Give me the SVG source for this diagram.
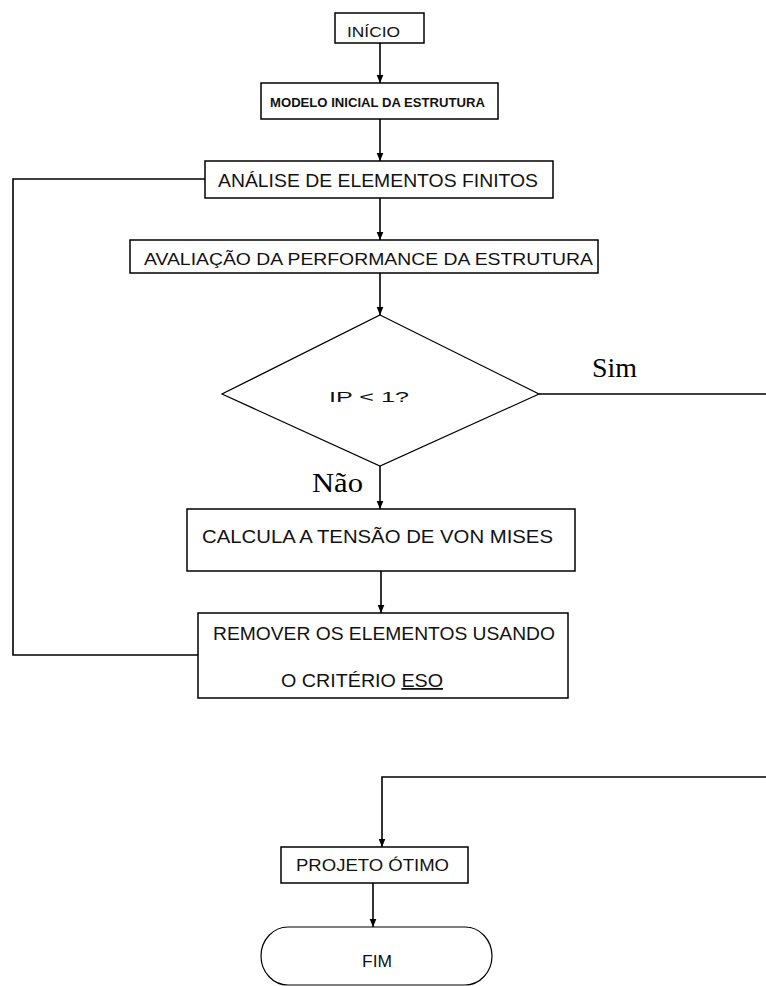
<svg xmlns="http://www.w3.org/2000/svg" width="766" height="986" viewBox="0 0 766 986">
<style>
.box{fill:#fff;stroke:#000;stroke-width:1.5}
.dia{fill:#fff;stroke:#000;stroke-width:1.2}
.ln{fill:none;stroke:#000;stroke-width:1.6}
.t{font-family:"Liberation Sans Narrow","Liberation Sans",Arial,sans-serif;fill:#111}
.s{font-family:"Liberation Serif","Times New Roman",serif;fill:#000}
</style>
<defs>
<marker id="ah" markerUnits="userSpaceOnUse" markerWidth="8" markerHeight="8" refX="6" refY="3" orient="auto" viewBox="0 0 6 6">
<path d="M0,0.5 L6,3 L0,5.5 Z" fill="#000"/>
</marker>
</defs>
<rect width="766" height="986" fill="#fff"/>
<g id="connectors">
<line class="ln" x1="380" y1="43" x2="380" y2="83" marker-end="url(#ah)"/>
<line class="ln" x1="380" y1="119" x2="380" y2="161" marker-end="url(#ah)"/>
<line class="ln" x1="380" y1="198" x2="380" y2="240" marker-end="url(#ah)"/>
<line class="ln" x1="380" y1="273" x2="380" y2="315" marker-end="url(#ah)"/>
<line class="ln" x1="380" y1="466" x2="380" y2="509" marker-end="url(#ah)"/>
<line class="ln" x1="381" y1="571" x2="381" y2="613" marker-end="url(#ah)"/>
<path class="ln" d="M198,655 H13 V179 H205"/>
<path class="ln" d="M539,394 H772 V777 H382 V847" marker-end="url(#ah)"/>
<line class="ln" x1="373" y1="883" x2="373" y2="927" marker-end="url(#ah)"/>
<text class="s" x="592" y="377" font-size="28" textLength="45" lengthAdjust="spacingAndGlyphs">Sim</text>
<text class="s" x="312" y="492" font-size="28" textLength="51" lengthAdjust="spacingAndGlyphs">Não</text>
</g>
<g id="inicio">
<rect class="box" x="335" y="13" width="89" height="30"/>
<text class="t" x="347" y="37" font-size="15" textLength="53" lengthAdjust="spacingAndGlyphs">INÍCIO</text>
</g>
<g id="modelo">
<rect class="box" x="261" y="83" width="237" height="36"/>
<text class="t" x="270" y="107" font-size="13" font-weight="bold" textLength="215" lengthAdjust="spacingAndGlyphs">MODELO INICIAL DA ESTRUTURA</text>
</g>
<g id="analise">
<rect class="box" x="205" y="161" width="348" height="37"/>
<text class="t" x="218" y="187" font-size="18" textLength="320" lengthAdjust="spacingAndGlyphs">ANÁLISE DE ELEMENTOS FINITOS</text>
</g>
<g id="avaliacao">
<rect class="box" x="130" y="240" width="468" height="33"/>
<text class="t" x="144" y="265" font-size="17" textLength="449" lengthAdjust="spacingAndGlyphs">AVALIAÇÃO DA PERFORMANCE DA ESTRUTURA</text>
</g>
<g id="decisao">
<polygon class="dia" points="380,315 539,394 380,466 222,394"/>
<text class="t" x="329" y="402" font-size="14" textLength="80" lengthAdjust="spacingAndGlyphs">IP &lt; 1?</text>
</g>
<g id="calcula">
<rect class="box" x="187" y="509" width="388" height="62"/>
<text class="t" x="202" y="543" font-size="18" textLength="351" lengthAdjust="spacingAndGlyphs">CALCULA A TENSÃO DE VON MISES</text>
</g>
<g id="remover">
<rect class="box" x="198" y="613" width="370" height="85"/>
<text class="t" x="213" y="640" font-size="18" textLength="342" lengthAdjust="spacingAndGlyphs">REMOVER OS ELEMENTOS USANDO</text>
<text class="t" x="281" y="687" font-size="18" textLength="162" lengthAdjust="spacingAndGlyphs">O CRITÉRIO <tspan text-decoration="underline">ESO</tspan></text>
</g>
<g id="projeto">
<rect class="box" x="281" y="847" width="187" height="36"/>
<text class="t" x="296" y="871" font-size="16" textLength="153" lengthAdjust="spacingAndGlyphs">PROJETO ÓTIMO</text>
</g>
<g id="fim">
<path class="dia" d="M288,927 H465 A27,29 0 0 1 465,985 H288 A27,29 0 0 1 288,927 Z"/>
<text class="t" x="362" y="967" font-size="16" textLength="30" lengthAdjust="spacingAndGlyphs">FIM</text>
</g>
</svg>
